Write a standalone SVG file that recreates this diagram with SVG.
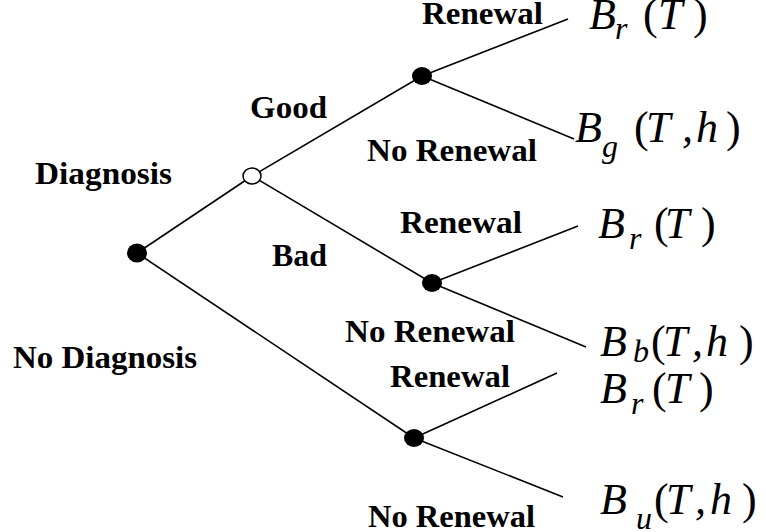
<svg xmlns="http://www.w3.org/2000/svg" width="766" height="532" viewBox="0 0 766 532">
<style>
.lbl{font-family:"Liberation Serif","Times New Roman","DejaVu Serif",serif;font-weight:bold;font-size:32px;fill:#000}
.m{font-family:"Liberation Serif","Times New Roman","DejaVu Serif",serif;font-size:44px;fill:#000}
.i{font-style:italic}
.s{font-style:italic;font-size:32px}
.edge{stroke:#000;stroke-width:1.6;fill:none}
.dec{fill:#000}
.chance{fill:#fff;stroke:#000;stroke-width:1.5}
</style>
<rect width="766" height="532" fill="#fff"/>
<g id="connectors">
<line class="edge" x1="137" y1="253" x2="252" y2="176"/>
<line class="edge" x1="137" y1="253" x2="414" y2="438"/>
<line class="edge" x1="252" y1="176" x2="422" y2="76"/>
<line class="edge" x1="252" y1="176" x2="432" y2="283"/>
<line class="edge" x1="422" y1="76" x2="568" y2="19"/>
<line class="edge" x1="422" y1="76" x2="574" y2="139"/>
<line class="edge" x1="432" y1="283" x2="578" y2="226"/>
<line class="edge" x1="432" y1="283" x2="586" y2="347"/>
<line class="edge" x1="414" y1="438" x2="557" y2="373"/>
<line class="edge" x1="414" y1="438" x2="563" y2="497"/>
</g>
<g id="root"><ellipse class="dec" cx="137" cy="253" rx="10" ry="9.5"/></g>
<g id="chance"><ellipse class="chance" cx="252" cy="176" rx="9" ry="8"/></g>
<g id="decision-good"><ellipse class="dec" cx="422" cy="76" rx="10" ry="9"/></g>
<g id="decision-bad"><ellipse class="dec" cx="432" cy="283" rx="10" ry="9"/></g>
<g id="decision-nodiag"><ellipse class="dec" cx="414" cy="438" rx="10" ry="9"/></g>
<g id="labels" font-family="Liberation Serif, Times New Roman, serif">
<text class="lbl" x="35" y="184" textLength="137" lengthAdjust="spacingAndGlyphs">Diagnosis</text>
<text class="lbl" x="13" y="368" textLength="184" lengthAdjust="spacingAndGlyphs">No Diagnosis</text>
<text class="lbl" x="250" y="118" textLength="77" lengthAdjust="spacingAndGlyphs">Good</text>
<text class="lbl" x="272" y="266" textLength="55" lengthAdjust="spacingAndGlyphs">Bad</text>
<text class="lbl" x="422" y="24" textLength="121" lengthAdjust="spacingAndGlyphs">Renewal</text>
<text class="lbl" x="367" y="161" textLength="170" lengthAdjust="spacingAndGlyphs">No Renewal</text>
<text class="lbl" x="400" y="233" textLength="122" lengthAdjust="spacingAndGlyphs">Renewal</text>
<text class="lbl" x="345" y="342" textLength="170" lengthAdjust="spacingAndGlyphs">No Renewal</text>
<text class="lbl" x="390" y="387" textLength="120" lengthAdjust="spacingAndGlyphs">Renewal</text>
<text class="lbl" x="368" y="527" textLength="167" lengthAdjust="spacingAndGlyphs">No Renewal</text>
</g>
<g id="outcomes" font-family="Liberation Serif, Times New Roman, serif">
<text class="m"><tspan class="i" x="589" y="29">B</tspan><tspan class="s" x="615" y="39">r</tspan><tspan x="643" y="29">(</tspan><tspan class="i" x="658" y="29">T</tspan><tspan x="693" y="29">)</tspan></text>
<text class="m"><tspan class="i" x="575" y="142">B</tspan><tspan class="s" x="602" y="157">g</tspan><tspan x="634" y="142">(</tspan><tspan class="i" x="646" y="142">T</tspan><tspan class="i" x="682" y="142">,</tspan><tspan class="i" x="696" y="142">h</tspan><tspan x="726" y="142">)</tspan></text>
<text class="m"><tspan class="i" x="598" y="238">B</tspan><tspan class="s" x="629" y="249">r</tspan><tspan x="654" y="238">(</tspan><tspan class="i" x="665" y="238">T</tspan><tspan x="701" y="238">)</tspan></text>
<text class="m"><tspan class="i" x="600" y="356">B</tspan><tspan class="s" x="633" y="362">b</tspan><tspan x="651" y="356">(</tspan><tspan class="i" x="663" y="356">T</tspan><tspan class="i" x="692" y="356">,</tspan><tspan class="i" x="706" y="356">h</tspan><tspan x="739" y="356">)</tspan></text>
<text class="m"><tspan class="i" x="600" y="403">B</tspan><tspan class="s" x="631" y="414">r</tspan><tspan x="652" y="403">(</tspan><tspan class="i" x="665" y="403">T</tspan><tspan x="699" y="403">)</tspan></text>
<text class="m"><tspan class="i" x="600" y="514">B</tspan><tspan class="s" x="636" y="529">u</tspan><tspan x="654" y="514">(</tspan><tspan class="i" x="666" y="514">T</tspan><tspan class="i" x="695" y="514">,</tspan><tspan class="i" x="710" y="514">h</tspan><tspan x="742" y="514">)</tspan></text>
</g>
</svg>
